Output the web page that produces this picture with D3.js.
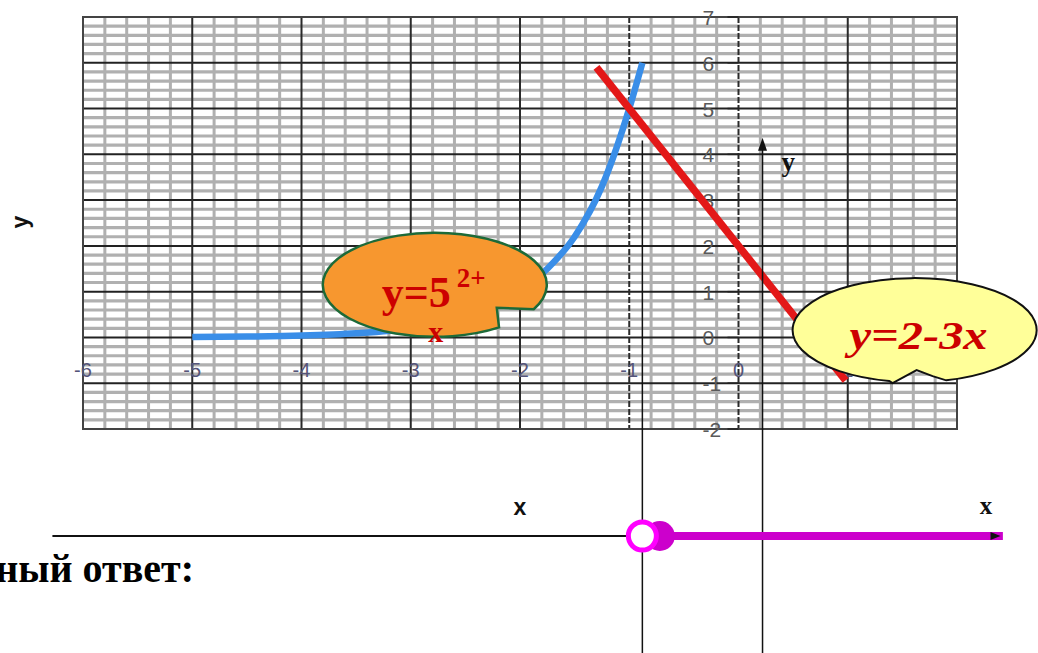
<!DOCTYPE html>
<html>
<head>
<meta charset="utf-8">
<script src="https://cdn.jsdelivr.net/npm/d3@7"></script>
<style>
  html, body { margin: 0; padding: 0; background: #fff; }
  svg { display: block; }
</style>
</head>
<body>
<svg id="chart" width="1038" height="653"></svg>
<script>
// Plot window
const xDomain = [-6, 2];
const yDomain = [-2, 7];
const xTickLabels = [-6, -5, -4, -3, -2, -1, 0, 1];
const yTickLabels = [-2, -1, 0, 1, 2, 3, 4, 5, 6, 7];

// y = 5^(2+x)
const expX = [-5, -4.5, -4, -3.5, -3, -2.5, -2, -1.75, -1.5, -1.25, -1, -0.88];
const expY = [0.01, 0.02, 0.04, 0.09, 0.2, 0.45, 1, 1.5, 2.2, 3.3, 5, 6.0];

// y = 2 - 3x
const linX = [-1.3, 0.98];
const linY = [5.9, -0.94];

// Number line for the answer: open end, filled end, ray end
const rayStart = -0.88;
const rayFilled = -0.72;
const rayEnd = 2.42;
const lineLeft = -6.28;
const lineRight = 2.38;
// vertical guides dropped onto the number line
const guideX = [-0.88, 0.22];

const svg = d3.select("#chart");
const x = d3.scaleLinear().domain(xDomain).range([83, 957]);
const y = d3.scaleLinear().domain(yDomain).range([429, 17]);

// ---- grid ----
const grid = svg.append("g");
const minorX = d3.range(-30, 11).map(i => i / 5).filter(v => !Number.isInteger(v));
const minorY = d3.range(-10, 36).map(i => i / 5).filter(v => !Number.isInteger(v));
const majorX = d3.range(-5, 2);
const majorY = d3.range(-1, 7);

grid.selectAll(".mx").data(minorX).join("line")
  .attr("x1", d => x(d)).attr("x2", d => x(d))
  .attr("y1", y(7)).attr("y2", y(-2))
  .attr("stroke", "#b0b0b0").attr("stroke-width", 3);
grid.selectAll(".my").data(minorY).join("line")
  .attr("x1", x(-6)).attr("x2", x(2))
  .attr("y1", d => y(d)).attr("y2", d => y(d))
  .attr("stroke", "#b0b0b0").attr("stroke-width", 3.2);
grid.selectAll(".My").data(majorY).join("line")
  .attr("x1", x(-6)).attr("x2", x(2))
  .attr("y1", d => y(d)).attr("y2", d => y(d))
  .attr("stroke", "#222").attr("stroke-width", 2);
grid.selectAll(".Mx").data(majorX).join("line")
  .attr("x1", d => x(d)).attr("x2", d => x(d))
  .attr("y1", y(7)).attr("y2", y(-2))
  .attr("stroke", "#2a2a2a").attr("stroke-width", 2)
  .attr("stroke-dasharray", d => (d === -1 || d === 0) ? "6,2" : null);
grid.append("rect")
  .attr("x", x(-6)).attr("y", y(7))
  .attr("width", x(2) - x(-6)).attr("height", y(-2) - y(7))
  .attr("fill", "none").attr("stroke", "#444").attr("stroke-width", 2);

// y axis ticks on x = 0
grid.selectAll(".yt").data(yTickLabels).join("line")
  .attr("x1", x(0) - 11).attr("x2", x(0))
  .attr("y1", d => y(d)).attr("y2", d => y(d))
  .attr("stroke", "#222").attr("stroke-width", 1.5);

grid.selectAll(".ytl").data(yTickLabels).join("text")
  .attr("x", x(0) - 36).attr("y", d => y(d) + 8)
  .attr("font-family", "Liberation Sans, Arial, sans-serif")
  .attr("font-size", 21).attr("fill", "#5a5a5a")
  .text(d => d);

grid.selectAll(".xtl").data(xTickLabels).join("text")
  .attr("x", d => x(d)).attr("y", y(0) + 40)
  .attr("text-anchor", "middle")
  .attr("font-family", "Liberation Sans, Arial, sans-serif")
  .attr("font-size", 20).attr("fill", "#55557a")
  .text(d => d);

// ---- curves ----
const expData = expX.map((v, i) => [v, expY[i]]);
const linData = linX.map((v, i) => [v, linY[i]]);

svg.append("path").datum(expData)
  .attr("d", d3.line().x(d => x(d[0])).y(d => y(d[1])).curve(d3.curveMonotoneX))
  .attr("fill", "none").attr("stroke", "#3a8ee8")
  .attr("stroke-width", 6.5);

svg.append("path").datum(linData)
  .attr("d", d3.line().x(d => x(d[0])).y(d => y(d[1])))
  .attr("fill", "none").attr("stroke", "#e31818")
  .attr("stroke-width", 7.5);

// ---- callouts ----
// Ellipse whose rim runs clockwise from angle a0 round to a1 (degrees, screen
// coordinates), then returns to a0 through the notch points (offsets from centre).
function calloutPath(cx, cy, rx, ry, a0, a1, notch) {
  const pt = a => [cx + rx * Math.cos(a * Math.PI / 180), cy + ry * Math.sin(a * Math.PI / 180)];
  const p0 = pt(a0), p1 = pt(a1);
  let d = `M${p0[0]},${p0[1]}A${rx},${ry} 0 1 1 ${p1[0]},${p1[1]}`;
  notch.forEach(n => { d += `L${cx + n[0]},${cy + n[1]}`; });
  return d + "Z";
}

// orange: y = 5^(2+x)
const oc = [x(-2.78), y(1.15)];
svg.append("path")
  .attr("d", calloutPath(oc[0], oc[1], 112, 52, 55, 28, [[62, 23]]))
  .attr("fill", "#f7972f").attr("stroke", "#1d6a38").attr("stroke-width", 2.5);

svg.append("text")
  .attr("x", oc[0] - 53).attr("y", oc[1] + 22)
  .attr("font-family", "Liberation Serif, Times New Roman, serif")
  .attr("font-weight", "bold").attr("fill", "#cc0000")
  .attr("font-size", 44)
  .text("y=5");
svg.append("text")
  .attr("x", oc[0] + 22).attr("y", oc[1] + 2)
  .attr("font-family", "Liberation Serif, Times New Roman, serif")
  .attr("font-weight", "bold").attr("fill", "#cc0000")
  .attr("font-size", 27)
  .text("2+");
svg.append("text")
  .attr("x", oc[0] + 1).attr("y", oc[1] + 57)
  .attr("text-anchor", "middle")
  .attr("font-family", "Liberation Serif, Times New Roman, serif")
  .attr("font-weight", "bold").attr("font-size", 30).attr("fill", "#cc0000")
  .text("x");

// yellow: y = 2 - 3x
const yc = [x(1.612), y(0.16)];
svg.append("path")
  .attr("d", calloutPath(yc[0], yc[1], 122, 52, 102, 75, [[18, 46], [2, 40], [-22, 53]]))
  .attr("fill", "#ffff99").attr("stroke", "#111").attr("stroke-width", 2);
svg.append("text")
  .attr("x", yc[0] - 65).attr("y", yc[1] + 19)
  .attr("font-family", "Liberation Serif, Times New Roman, serif")
  .attr("font-weight", "bold").attr("font-style", "italic")
  .attr("font-size", 40).attr("fill", "#cc0000")
  .attr("textLength", 138).attr("lengthAdjust", "spacingAndGlyphs")
  .text("y=2-3x");

// ---- axis captions ----
svg.append("text")
  .attr("transform", "translate(28,222) rotate(-90)")
  .attr("text-anchor", "middle")
  .attr("font-family", "Liberation Sans, Arial, sans-serif")
  .attr("font-weight", "bold").attr("font-size", 23).attr("fill", "#111")
  .text("y");
svg.append("text")
  .attr("x", 520).attr("y", 515).attr("text-anchor", "middle")
  .attr("font-family", "Liberation Sans, Arial, sans-serif")
  .attr("font-weight", "bold").attr("font-size", 23).attr("fill", "#111")
  .text("x");

// ---- guides and number line ----
const nlY = 536;
svg.append("line")
  .attr("x1", x(guideX[0])).attr("x2", x(guideX[0]))
  .attr("y1", y(4.3)).attr("y2", 653)
  .attr("stroke", "#111").attr("stroke-width", 1.5);
svg.append("line")
  .attr("x1", x(guideX[1])).attr("x2", x(guideX[1]))
  .attr("y1", y(4.1)).attr("y2", 653)
  .attr("stroke", "#111").attr("stroke-width", 1.5);
svg.append("path")
  .attr("d", `M${x(guideX[1])},${y(4.1) - 12} l-4.5,13 l9,0 Z`)
  .attr("fill", "#111");
svg.append("text")
  .attr("x", x(guideX[1]) + 19).attr("y", y(4.1) + 21)
  .attr("font-family", "Liberation Serif, Times New Roman, serif")
  .attr("font-weight", "bold").attr("font-size", 27).attr("fill", "#111")
  .text("y");

svg.append("line")
  .attr("x1", x(lineLeft)).attr("x2", x(lineRight))
  .attr("y1", nlY).attr("y2", nlY)
  .attr("stroke", "#111").attr("stroke-width", 2);
svg.append("line")
  .attr("x1", x(rayFilled)).attr("x2", x(rayEnd))
  .attr("y1", nlY).attr("y2", nlY)
  .attr("stroke", "#cc00cc").attr("stroke-width", 8);
svg.append("path")
  .attr("d", `M${x(lineRight) + 2},${nlY} l-10,-4 l0,8 Z`)
  .attr("fill", "#111");
svg.append("circle")
  .attr("cx", x(rayFilled)).attr("cy", nlY).attr("r", 15)
  .attr("fill", "#cc00cc");
svg.append("circle")
  .attr("cx", x(rayStart)).attr("cy", nlY).attr("r", 14)
  .attr("fill", "#fff").attr("stroke", "#ff00ff").attr("stroke-width", 5);
svg.append("text")
  .attr("x", 986).attr("y", 514).attr("text-anchor", "middle")
  .attr("font-family", "Liberation Serif, Times New Roman, serif")
  .attr("font-weight", "bold").attr("font-size", 25).attr("fill", "#111")
  .text("x");

// answer caption; its start runs past the left edge of the page
svg.append("text")
  .attr("x", 194).attr("y", 582).attr("text-anchor", "end")
  .attr("font-family", "Liberation Serif, Times New Roman, serif")
  .attr("font-weight", "bold").attr("font-size", 40).attr("fill", "#000")
  .text("ный ответ:");
</script>
</body>
</html>
